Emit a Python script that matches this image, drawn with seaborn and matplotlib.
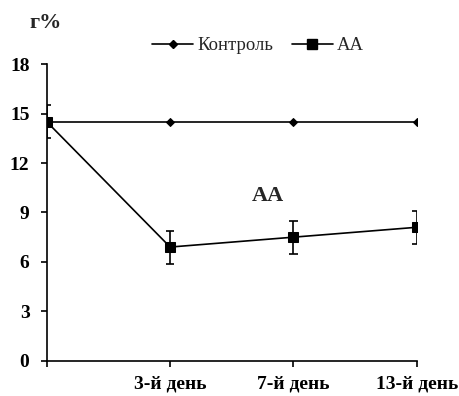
import matplotlib
matplotlib.use("Agg")
import matplotlib.pyplot as plt
import numpy as np
import pandas as pd
import seaborn as sns

# ---- data ----
days = ["", "3-й день", "7-й день", "13-й день"]
control = [14.5, 14.5, 14.5, 14.5]
aa = [14.5, 6.9, 7.5, 8.1]
aa_err = [1.0, 1.0, 1.0, 1.0]
y_ticks = [0, 3, 6, 9, 12, 15, 18]

sns.set_style("white")
plt.rcParams["font.family"] = ["Liberation Serif", "DejaVu Serif"]

pos = list(range(len(days)))
df = pd.DataFrame({
    "x": pos * 2,
    "y": control + aa,
    "group": ["Контроль"] * len(pos) + ["АА"] * len(pos),
})

fig = plt.figure(figsize=(4.59, 3.96), dpi=100)
ax = fig.add_axes([0.102, 0.089, 0.806, 0.749])

sns.lineplot(
    data=df, x="x", y="y", hue="group",
    palette={"Контроль": "black", "АА": "black"},
    linewidth=1.2, ax=ax, legend=False,
)
ax.lines[0].set_marker("D")
ax.lines[0].set_markersize(4.5)
ax.lines[1].set_marker("s")
ax.lines[1].set_markersize(6.5)
for ln in ax.lines:
    ln.set_markerfacecolor("black")
    ln.set_markeredgecolor("black")

# error bars with caps that clip at the axes edge
p = np.array(pos, dtype=float)
y = np.array(aa)
e = np.array(aa_err)
ax.vlines(p, y - e, y + e, color="black", lw=1.2)
cap = 0.035
ax.hlines(y + e, p - cap, p + cap, color="black", lw=1.2)
ax.hlines(y - e, p - cap, p + cap, color="black", lw=1.2)

ax.set_xlim(0, 3)
ax.set_ylim(0, 18)
ax.set_xticks(pos)
ax.set_xticklabels(days, fontweight="bold", fontsize=14)
ax.set_yticks(y_ticks)
ax.set_yticklabels([str(v) for v in y_ticks], fontweight="bold", fontsize=14)
ax.set_xlabel("")
ax.set_ylabel("")
for s in ["top", "right"]:
    ax.spines[s].set_visible(False)
for s in ["left", "bottom"]:
    ax.spines[s].set_color("black")
    ax.spines[s].set_linewidth(1.2)
ax.tick_params(axis="both", direction="out", length=4.5, width=1.2,
               colors="black", left=True, bottom=True)
ax.tick_params(axis="y", pad=8)
ax.tick_params(axis="x", pad=6)

ax.text(1.79, 10.0, "АА", fontsize=16, fontweight="bold", ha="center",
        va="center")
fig.text(0.1, 0.942, "г%", fontsize=16, fontweight="bold", ha="center",
         va="center")

handles = [
    plt.Line2D([], [], color="black", marker="D", markersize=4.5, lw=1.2),
    plt.Line2D([], [], color="black", marker="s", markersize=6.5, lw=1.2),
]
fig.legend(handles, ["Контроль", "АА"], loc="center",
           bbox_to_anchor=(0.562, 0.885), ncol=2, frameon=False,
           fontsize=13.5, handlelength=2.2, handletextpad=0.2,
           columnspacing=1.0)

fig.savefig("out.png", dpi=100)
